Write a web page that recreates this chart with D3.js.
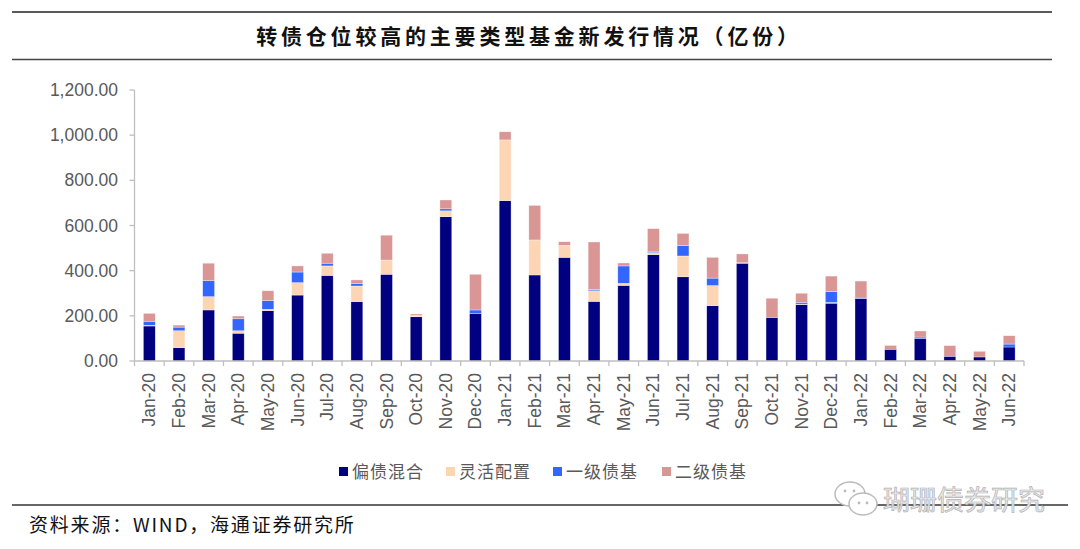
<!DOCTYPE html>
<html><head><meta charset="utf-8">
<script src="https://cdn.jsdelivr.net/npm/d3@7"></script>
<style>
html,body{margin:0;padding:0;background:#fff;}
svg{display:block;}
</style></head>
<body>
<script>
const months = ["Jan-20","Feb-20","Mar-20","Apr-20","May-20","Jun-20","Jul-20","Aug-20","Sep-20","Oct-20","Nov-20","Dec-20",
"Jan-21","Feb-21","Mar-21","Apr-21","May-21","Jun-21","Jul-21","Aug-21","Sep-21","Oct-21","Nov-21","Dec-21",
"Jan-22","Feb-22","Mar-22","Apr-22","May-22","Jun-22"];
const seriesNames = ["偏债混合","灵活配置","一级债基","二级债基"];
const pianzhai = [155,59,226,123,223,292,379,263,384,196,639,211,710,381,459,264,335,471,373,245,433,193,250,256,276,52,99,21,18,62];
const linghuo  = [3,75,59,11,6,55,42,69,63,4,26,0,269,155,53,47,9,9,92,89,2,0,2,3,0,0,0,0,0,0];
const yiji     = [18,16,71,53,38,47,12,12,0,2,9,15,0,0,0,5,77,6,46,33,0,0,8,49,3,0,7,0,0,13];
const erji     = [35,9,77,12,44,27,44,15,110,6,39,158,36,153,16,211,13,100,54,92,39,85,40,68,75,17,27,47,25,37];
const yTicks = [0,200,400,600,800,1000,1200];
const colors = ["#000080","#FCD5B5","#3366FF","#D99694"];

const W = 1080, H = 549;
const svg = d3.select("body").append("svg").attr("width", W).attr("height", H);

const rows = months.map((m,i)=>({month:m, "偏债混合":pianzhai[i], "灵活配置":linghuo[i], "一级债基":yiji[i], "二级债基":erji[i]}));
const stack = d3.stack().keys(seriesNames)(rows);

const x = d3.scaleBand().domain(months).range([134.5, 1024]).paddingInner(0.6).paddingOuter(0.3);
const y = d3.scaleLinear().domain([0,1200]).range([361, 90]);

// title lines
svg.append("line").attr("x1",12).attr("x2",1052).attr("y1",12).attr("y2",12).attr("stroke","#222").attr("stroke-width",1.5);
svg.append("line").attr("x1",12).attr("x2",1052).attr("y1",59.5).attr("y2",59.5).attr("stroke","#444").attr("stroke-width",1.5);
svg.append("text").attr("x",529).attr("y",44).attr("text-anchor","middle")
  .attr("font-family","'Noto Sans CJK SC', sans-serif").attr("font-weight","700")
  .attr("font-size",21).attr("letter-spacing","3.8px").attr("fill","#111")
  .text("转债仓位较高的主要类型基金新发行情况（亿份）");

// bars
const g = svg.append("g");
stack.forEach((layer,li)=>{
  g.selectAll(null).data(layer).enter().append("rect")
    .attr("x", d=>x(d.data.month))
    .attr("width", x.bandwidth())
    .attr("y", d=>y(d[1]))
    .attr("height", d=>Math.max(0, y(d[0])-y(d[1])))
    .attr("fill", colors[li])
    .attr("stroke", "rgba(255,255,255,0.55)")
    .attr("stroke-width", 0.6);
});

// y axis
const axisColor = "#bfbfbf";
svg.append("line").attr("x1",134.5).attr("x2",134.5).attr("y1",90).attr("y2",361).attr("stroke",axisColor).attr("stroke-width",1.3);
const fmt = d3.format(",.2f");
yTicks.forEach(t=>{
  svg.append("line").attr("x1",129.5).attr("x2",134.5).attr("y1",y(t)).attr("y2",y(t)).attr("stroke",axisColor).attr("stroke-width",1.3);
  svg.append("text").attr("x",118).attr("y",y(t)+6).attr("text-anchor","end")
    .attr("font-family","'Liberation Sans', Arial, sans-serif").attr("font-size",17.5).attr("fill","#595959")
    .text(fmt(t));
});

// x axis
svg.append("line").attr("x1",134.5).attr("x2",1024).attr("y1",361).attr("y2",361).attr("stroke",axisColor).attr("stroke-width",1.3);
d3.range(months.length+1).forEach(i=>{
  const xx = 134.5 + i*(1024-134.5)/months.length;
  svg.append("line").attr("x1",xx).attr("x2",xx).attr("y1",361).attr("y2",366).attr("stroke",axisColor).attr("stroke-width",1.3);
});
months.forEach(m=>{
  const cx = x(m)+x.bandwidth()/2;
  svg.append("text").attr("transform",`translate(${cx+6},373) rotate(-90)`)
    .attr("text-anchor","end")
    .attr("font-family","'Liberation Sans', Arial, sans-serif").attr("font-size",17.5).attr("fill","#595959")
    .text(m);
});

// legend
const legX = [339,446,553,662];
seriesNames.forEach((s,i)=>{
  svg.append("rect").attr("x",legX[i]).attr("y",467).attr("width",9).attr("height",9).attr("fill",colors[i]);
  svg.append("text").attr("x",legX[i]+13).attr("y",478).attr("font-family","'Noto Sans CJK SC', sans-serif")
    .attr("font-size",17).attr("letter-spacing","1px").attr("fill","#595959").text(s);
});

// footer line
svg.append("line").attr("x1",12).attr("x2",1068).attr("y1",505).attr("y2",505).attr("stroke","#333").attr("stroke-width",1.3);
svg.append("text").attr("x",29).attr("y",532).attr("font-family","'Noto Sans CJK SC', sans-serif")
  .attr("font-size",19).attr("letter-spacing","1.8px").attr("fill","#111").text("资料来源：WIND，海通证券研究所");

// watermark
const wm = svg.append("g");
wm.append("ellipse").attr("cx",850).attr("cy",494).attr("rx",15).attr("ry",12).attr("fill","#fff").attr("stroke","#bbb").attr("stroke-width",1.5);
wm.append("ellipse").attr("cx",863).attr("cy",504).attr("rx",14).attr("ry",11).attr("fill","#fff").attr("stroke","#bbb").attr("stroke-width",1.5);
[[845,491],[854,491],[859,503],[867,503]].forEach(p=>wm.append("circle").attr("cx",p[0]).attr("cy",p[1]).attr("r",1.4).attr("fill","#bbb"));
wm.append("text").attr("x",883).attr("y",510).attr("font-family","'Noto Sans CJK SC', sans-serif")
  .attr("font-size",27).attr("fill","#ececec").attr("stroke","#b0b0b0").attr("stroke-width",0.7)
  .text("瑚珊债券研究");
</script>
</body></html>
